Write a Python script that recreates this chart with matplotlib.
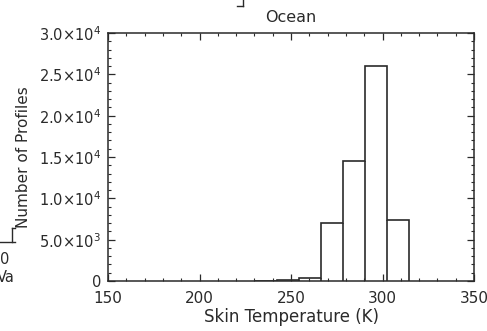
import numpy as np
import matplotlib
matplotlib.use('Agg')
import matplotlib.pyplot as plt
from matplotlib.ticker import MultipleLocator, FixedLocator, FixedFormatter
from matplotlib.lines import Line2D

# histogram of skin temperature over ocean
bin_edges = [230.6, 242.6, 254.6, 266.6, 278.6, 290.6, 302.6, 314.6]
counts = [50, 150, 330, 7050, 14500, 26000, 7350]

y_ticks = [0, 5000, 10000, 15000, 20000, 25000, 30000]
y_tick_labels = ['0', '5.0×10$^3$', '1.0×10$^4$', '1.5×10$^4$',
                 '2.0×10$^4$', '2.5×10$^4$', '3.0×10$^4$']

W, H = 487, 331
fig = plt.figure(figsize=(W / 100, H / 100), dpi=100)
ax = fig.add_axes([108 / W, 1 - 281 / H, 366 / W, 248 / H])

ink = '#2a2a2a'
ax.stairs(counts, bin_edges, color=ink, linewidth=1.2)
# inner bin walls
for i in range(1, len(bin_edges) - 1):
    ax.vlines(bin_edges[i], 0, min(counts[i - 1], counts[i]), color=ink, linewidth=1.2)

ax.set_xlim(150, 350)
ax.set_ylim(0, 30000)
ax.xaxis.set_major_locator(MultipleLocator(50))
ax.xaxis.set_minor_locator(MultipleLocator(10))
ax.yaxis.set_major_locator(FixedLocator(y_ticks))
ax.yaxis.set_major_formatter(FixedFormatter(y_tick_labels))
ax.yaxis.set_minor_locator(MultipleLocator(1000))
ax.tick_params(which='both', direction='in', top=True, right=True, color=ink, labelcolor=ink)
ax.tick_params(axis='y', labelsize=10.5, pad=5)
ax.tick_params(axis='x', labelsize=11, pad=7)
ax.tick_params(which='major', length=5, width=0.9)
ax.tick_params(which='minor', length=2.5, width=0.8)
for s in ax.spines.values():
    s.set_linewidth(1.1)
    s.set_color(ink)

ax.set_xlabel('Skin Temperature (K)', fontsize=12, color=ink, labelpad=2)
ax.set_ylabel('Number of Profiles', fontsize=11, color=ink, labelpad=6)
ax.set_title('Ocean', fontsize=11.5, color=ink, pad=8)

# fragments of a neighbouring panel cut off at the borders
fig.text(0.0, 1 - 260 / H, '0', fontsize=10.5, color=ink, ha='left', va='center')
fig.text(-0.006, 1 - 278 / H, 'Va', fontsize=10.5, color=ink, ha='left', va='center')
fig.add_artist(Line2D([12 / W, 12 / W], [1 - 228 / H, 1 - 242 / H], color=ink, lw=1.0))
fig.add_artist(Line2D([12 / W, 15 / W], [1 - 228 / H, 1 - 228 / H], color=ink, lw=1.0))
fig.add_artist(Line2D([0, 15 / W], [1 - 242 / H, 1 - 242 / H], color=ink, lw=1.0))
fig.add_artist(Line2D([243 / W, 243 / W], [1 - 6 / H, 1.0], color=ink, lw=1.0))
fig.add_artist(Line2D([237 / W, 243 / W], [1 - 6 / H, 1 - 6 / H], color=ink, lw=1.0))

fig.savefig('out.png', dpi=100)
